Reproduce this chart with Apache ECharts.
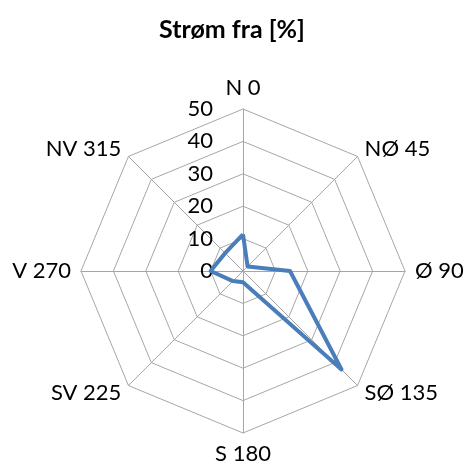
<!DOCTYPE html>
<html>
<head>
<meta charset="utf-8">
<script src="https://cdn.jsdelivr.net/npm/echarts@6/dist/echarts.min.js"></script>
<style>
  html, body { margin: 0; padding: 0; background: #fff; }
  #chart { width: 464px; height: 468px; }
</style>
</head>
<body>
<div id="chart"></div>
<script>
// retninger, mot klokka fra nord (echarts radar går mot klokka)
const directions = ['N 0', 'NV 315', 'V 270', 'SV 225', 'S 180', 'SØ 135', 'Ø 90', 'NØ 45'];
const values = [11.3, 7.8, 10, 4.4, 3.5, 43, 14.5, 2];
const axisMax = 50;

const chart = echarts.init(document.getElementById('chart'));

const option = {
  animation: false,
  title: {
    text: 'Strøm fra [%]',
    left: 'center',
    top: 12,
    textStyle: { fontFamily: 'Lato', fontSize: 25, fontWeight: 'bold', color: '#000' }
  },
  radar: {
    center: [243, 271],
    radius: 162,
    shape: 'polygon',
    splitNumber: 5,
    nameGap: 10,
    axisName: { color: '#000', fontFamily: 'Lato', fontSize: 22 },
    axisLine: { lineStyle: { color: '#a6a6a6', width: 1 } },
    splitLine: { lineStyle: { color: '#a6a6a6', width: 1 } },
    splitArea: { show: false },
    axisLabel: { show: false },
    indicator: directions.map((d, i) => {
      const ind = { name: d, min: 0, max: axisMax };
      if (i === 0) {
        // bare nord-aksen har tall
        ind.axisLabel = { show: true, color: '#000', fontFamily: 'Lato', fontSize: 22, margin: 30 };
      }
      return ind;
    })
  },
  series: [{
    type: 'radar',
    symbol: 'none',
    lineStyle: { color: '#4a7ebb', width: 4 },
    itemStyle: { color: '#4a7ebb' },
    data: [{ value: values, name: 'Strøm fra' }]
  }]
};

chart.setOption(option);
</script>
</body>
</html>
